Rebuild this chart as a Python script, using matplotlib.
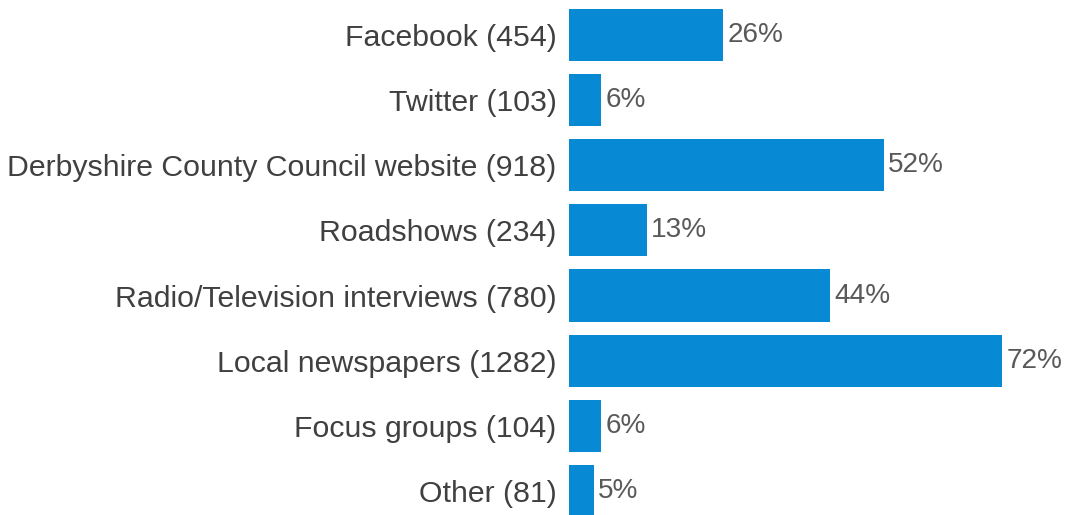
import matplotlib
matplotlib.use("Agg")
import matplotlib.pyplot as plt

# Categories (top to bottom), bar lengths in percent, and printed labels
categories = [
    "Facebook (454)",
    "Twitter (103)",
    "Derbyshire County Council website (918)",
    "Roadshows (234)",
    "Radio/Television interviews (780)",
    "Local newspapers (1282)",
    "Focus groups (104)",
    "Other (81)",
]
values = [25.6, 5.4, 52.3, 12.9, 43.4, 72.0, 5.4, 4.1]
pct_labels = ["26%", "6%", "52%", "13%", "44%", "72%", "6%", "5%"]

plt.rcParams['font.family'] = ['Liberation Sans', 'DejaVu Sans']

fig = plt.figure(figsize=(10.71, 5.15), dpi=100)
# axes starts where the bars start, fills full height
ax = fig.add_axes([569 / 1071, 0, (1071 - 569) / 1071, 1])

y = list(range(len(categories)))
ax.barh(y, values, height=0.8, color='#0789D4')

# percentage labels just after the bar ends
for i, v in enumerate(values):
    ax.annotate(pct_labels[i], (v, i), xytext=(3, 0), textcoords="offset points",
                va='center', ha='left', fontsize=20.2, color='#595959')

ax.set_xlim(0, 83.47)
ax.set_ylim(7.369, -0.537)

ax.set_yticks(y)
ax.set_yticklabels(categories, fontsize=21.8, color='#404040')
ax.tick_params(axis='y', length=0, pad=9)
ax.set_xticks([])
for s in ax.spines.values():
    s.set_visible(False)

fig.savefig("out.png", dpi=100)
